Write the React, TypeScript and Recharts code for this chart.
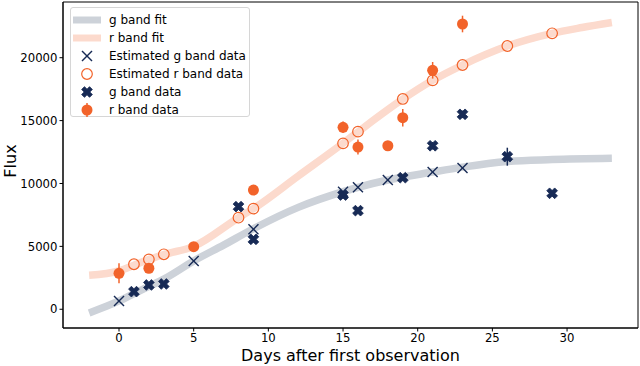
import React from 'react';
import {
  ComposedChart,
  Line,
  Scatter,
  ErrorBar,
  XAxis,
  YAxis,
  ReferenceArea,
  Label,
} from 'recharts';

// fit curves
const gFitDays = [-2, 0, 1, 2, 3, 5, 7, 9, 12, 15, 16, 18, 21, 23, 26, 29, 33];
const gFitFlux = [-290, 660, 1250, 1820, 2400, 3840, 5100, 6400, 8100, 9350, 9700, 10280, 10910, 11300, 11750, 11900, 12000];
const rFitDays = [-2, 0, 1, 2, 3, 5, 8, 9, 12, 15, 16, 19, 21, 23, 26, 29, 31, 33];
const rFitFlux = [2700, 3050, 3500, 3950, 4350, 5000, 7280, 8000, 10600, 13200, 14100, 16700, 18200, 19420, 20930, 21940, 22400, 22800];

// estimated points
const gEstDays = [0, 5, 9, 15, 16, 18, 21, 23];
const gEstFlux = [660, 3840, 6360, 9350, 9700, 10280, 10910, 11230];
const rEstDays = [1, 2, 3, 8, 9, 15, 16, 19, 21, 23, 26, 29];
const rEstFlux = [3580, 3970, 4370, 7280, 8000, 13190, 14120, 16720, 18200, 19420, 20930, 21940];

// observed points
const gDays = [1, 2, 3, 8, 9, 15, 16, 19, 21, 23, 26, 29];
const gFlux = [1400, 1930, 2010, 8160, 5560, 9080, 7840, 10460, 13000, 15500, 12130, 9220];
const gErr = [150, 200, 150, 250, 250, 300, 250, 250, 300, 300, 715, 250];
const rDays = [0, 2, 5, 9, 15, 16, 18, 19, 21, 23];
const rFlux = [2860, 3260, 4980, 9480, 14470, 12900, 13000, 15230, 19000, 22680];
const rErr = [800, 300, 350, 250, 460, 600, 300, 690, 660, 660];

const xTicks = [0, 5, 10, 15, 20, 25, 30];
const yTicks = [0, 5000, 10000, 15000, 20000];

const NAVY = '#172a55';
const ORANGE = '#f2632a';
const GFIT = '#cdd2d9';
const RFIT = '#fcdacd';
const FONT = '"DejaVu Sans", sans-serif';

const zip = (xs: number[], ys: number[], es?: number[]) =>
  xs.map((x, i) => ({ x, y: ys[i], err: es ? es[i] : 0 }));

const gFit = zip(gFitDays, gFitFlux);
const rFit = zip(rFitDays, rFitFlux);
const gEst = zip(gEstDays, gEstFlux);
const rEst = zip(rEstDays, rEstFlux);
const gObs = zip(gDays, gFlux, gErr);
const rObs = zip(rDays, rFlux, rErr);

const xPts = (() => {
  const L = 5.6;
  const a = 2.0;
  const base = [
    [a, L], [a, a], [L, a], [L, -a], [a, -a], [a, -L],
    [-a, -L], [-a, -a], [-L, -a], [-L, a], [-a, a], [-a, L],
  ];
  const c = Math.SQRT1_2;
  return base.map(([x, y]) => [(x - y) * c, (x + y) * c]);
})();

const FilledX = ({ cx, cy }: any) => (
  <polygon
    points={xPts.map(([x, y]) => `${cx + x},${cy + y}`).join(' ')}
    fill={NAVY}
    stroke={NAVY}
    strokeWidth={0.8}
  />
);
const ThinX = ({ cx, cy }: any) => (
  <g stroke={NAVY} strokeWidth={1.4}>
    <line x1={cx - 5} y1={cy - 5} x2={cx + 5} y2={cy + 5} />
    <line x1={cx - 5} y1={cy + 5} x2={cx + 5} y2={cy - 5} />
  </g>
);
const Dot = ({ cx, cy }: any) => <circle cx={cx} cy={cy} r={5.5} fill={ORANGE} />;
const Ring = ({ cx, cy }: any) => (
  <circle cx={cx} cy={cy} r={5.3} fill="none" stroke={ORANGE} strokeWidth={1.2} />
);

const legendRows = [
  { label: 'g band fit', kind: 'gfit' },
  { label: 'r band fit', kind: 'rfit' },
  { label: 'Estimated g band data', kind: 'thinx' },
  { label: 'Estimated r band data', kind: 'ring' },
  { label: 'g band data', kind: 'filledx' },
  { label: 'r band data', kind: 'dot' },
];

function Swatch({ kind }: { kind: string }) {
  return (
    <svg width={30} height={14} style={{ display: 'block' }}>
      {kind === 'gfit' && <line x1={1} y1={7} x2={29} y2={7} stroke={GFIT} strokeWidth={7} />}
      {kind === 'rfit' && <line x1={1} y1={7} x2={29} y2={7} stroke={RFIT} strokeWidth={7} />}
      {kind === 'thinx' && <ThinX cx={15} cy={7} />}
      {kind === 'ring' && <Ring cx={15} cy={7} />}
      {kind === 'filledx' && <FilledX cx={15} cy={7} />}
      {kind === 'dot' && (
        <g>
          <line x1={15} y1={0} x2={15} y2={14} stroke={ORANGE} strokeWidth={1.5} />
          <Dot cx={15} cy={7} />
        </g>
      )}
    </svg>
  );
}

export default function App() {
  return (
    <div style={{ position: 'absolute', left: 0, top: 0, width: 640, height: 366, background: '#fff', fontFamily: FONT }}>
      <ComposedChart
        width={640}
        height={366}
        margin={{ top: 2, right: 2, left: 0, bottom: 0 }}
      >
        <XAxis
          type="number"
          dataKey="x"
          domain={[-3.75, 34.75]}
          ticks={xTicks}
          allowDataOverflow
          height={38}
          tickSize={3.5}
          tickMargin={2}
          stroke="#000"
          tick={{ fill: '#000', fontSize: 11.7, fontFamily: FONT }}
        >
          <Label
            value="Days after first observation"
            position="insideBottom"
            offset={5}
            style={{ fill: '#000', fontSize: 16, fontFamily: FONT }}
          />
        </XAxis>
        <YAxis
          type="number"
          domain={[-1490, 24430]}
          ticks={yTicks}
          allowDataOverflow
          width={63}
          tickSize={3.5}
          tickMargin={2}
          stroke="#000"
          tick={{ fill: '#000', fontSize: 11.7, fontFamily: FONT }}
        >
          <Label
            value="Flux"
            angle={-90}
            position="center"
            dx={-21}
            dy={-4}
            style={{ fill: '#000', fontSize: 16, fontFamily: FONT, textAnchor: 'middle' }}
          />
        </YAxis>
        <Line data={gFit} dataKey="y" type="monotone" stroke={GFIT} strokeWidth={7.5} dot={false} isAnimationActive={false} />
        <Line data={rFit} dataKey="y" type="monotone" stroke={RFIT} strokeWidth={7.5} dot={false} isAnimationActive={false} />
        <Scatter data={gEst} dataKey="y" shape={ThinX} isAnimationActive={false} />
        <Scatter data={rEst} dataKey="y" shape={Ring} isAnimationActive={false} />
        <Scatter data={gObs} dataKey="y" shape={FilledX} isAnimationActive={false}>
          <ErrorBar dataKey="err" direction="y" width={0} stroke={NAVY} strokeWidth={1.5} isAnimationActive={false} />
        </Scatter>
        <Scatter data={rObs} dataKey="y" shape={Dot} isAnimationActive={false}>
          <ErrorBar dataKey="err" direction="y" width={0} stroke={ORANGE} strokeWidth={1.5} isAnimationActive={false} />
        </Scatter>
        <ReferenceArea x1={-3.75} x2={34.75} y1={-1490} y2={24430} fill="none" stroke="#000" strokeWidth={1} />
      </ComposedChart>
      <div
        style={{
          position: 'absolute',
          left: 70,
          top: 7,
          width: 180,
          height: 110,
          boxSizing: 'border-box',
          border: '1px solid #d6d6d6',
          borderRadius: 3,
          background: 'rgba(255,255,255,0.8)',
          padding: '3px 0 0 1px',
        }}
      >
        {legendRows.map((r) => (
          <div key={r.label} style={{ display: 'flex', alignItems: 'center', height: 18 }}>
            <Swatch kind={r.kind} />
            <span style={{ marginLeft: 7, fontSize: 12, color: '#000', whiteSpace: 'nowrap' }}>{r.label}</span>
          </div>
        ))}
      </div>
    </div>
  );
}
